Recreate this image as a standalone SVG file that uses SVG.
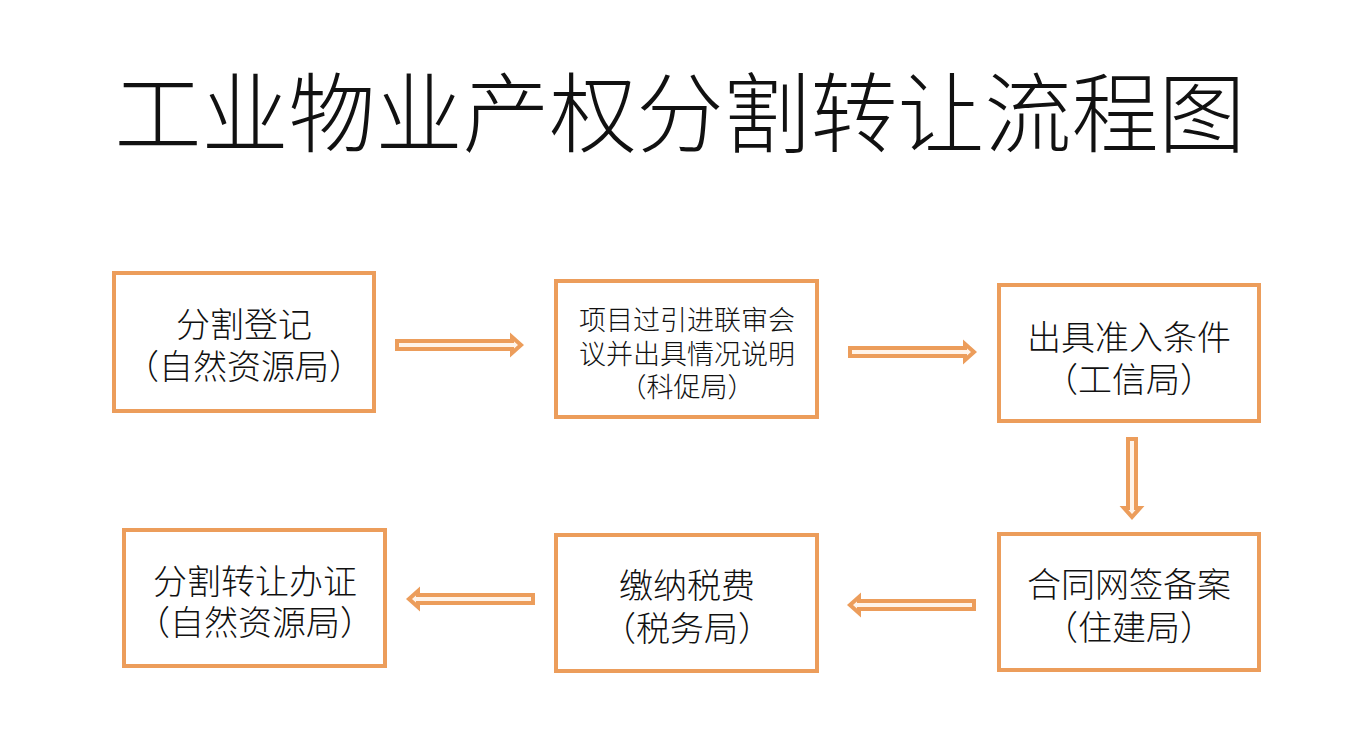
<svg xmlns="http://www.w3.org/2000/svg" width="1348" height="753" viewBox="0 0 1348 753">
<style>
  .box { fill: #FFFFFF; stroke: #EC9D5B; stroke-width: 4; }
  .arr { fill: #FFF4EA; stroke: #EC9D5B; stroke-width: 4; stroke-linejoin: miter; }
  text { font-family: "Noto Sans CJK SC", "Noto Sans", sans-serif; font-weight: 300; fill: #111111; text-anchor: middle; dominant-baseline: central; }
  .t { font-size: 87px; }
  .l { font-size: 34px; }
  .s { font-size: 27px; }
</style>
<rect x="0" y="0" width="1348" height="753" fill="#FFFFFF"/>
<text class="t" x="680" y="108">工业物业产权分割转让流程图</text>

<g id="node1">
  <rect class="box" x="114" y="273" width="260" height="138"/>
  <text class="l" x="244" y="322">分割登记</text>
  <text class="l" x="244" y="364">（自然资源局）</text>
</g>
<g id="node2">
  <rect class="box" x="556" y="281" width="261" height="136"/>
  <text class="s" x="687" y="318">项目过引进联审会</text>
  <text class="s" x="687" y="352">议并出具情况说明</text>
  <text class="s" x="687" y="385">（科促局）</text>
</g>
<g id="node3">
  <rect class="box" x="999" y="285" width="260" height="136"/>
  <text class="l" x="1129" y="335">出具准入条件</text>
  <text class="l" x="1129" y="377">（工信局）</text>
</g>
<g id="node4">
  <rect class="box" x="999" y="534" width="260" height="136"/>
  <text class="l" x="1129" y="582">合同网签备案</text>
  <text class="l" x="1129" y="625">（住建局）</text>
</g>
<g id="node5">
  <rect class="box" x="556" y="535" width="261" height="136"/>
  <text class="l" x="687" y="583">缴纳税费</text>
  <text class="l" x="687" y="626">（税务局）</text>
</g>
<g id="node6">
  <rect class="box" x="124" y="530" width="261" height="136"/>
  <text class="l" x="255" y="579">分割转让办证</text>
  <text class="l" x="255" y="620">（自然资源局）</text>
</g>

<g id="connectors">
  <path class="arr" d="M397,341 H512 V337 L521,345 L512,353 V349 H397 Z"/>
  <path class="arr" d="M850,348 H965 V344 L974,352 L965,360 V356 H850 Z"/>
  <path class="arr" d="M1128,439 V508 H1124 L1132,517 L1140,508 H1136 V439 Z"/>
  <path class="arr" d="M974,601 H859 V597 L850,605 L859,613 V609 H974 Z"/>
  <path class="arr" d="M533,595 H418 V591 L409,599 L418,607 V603 H533 Z"/>
</g>
</svg>
